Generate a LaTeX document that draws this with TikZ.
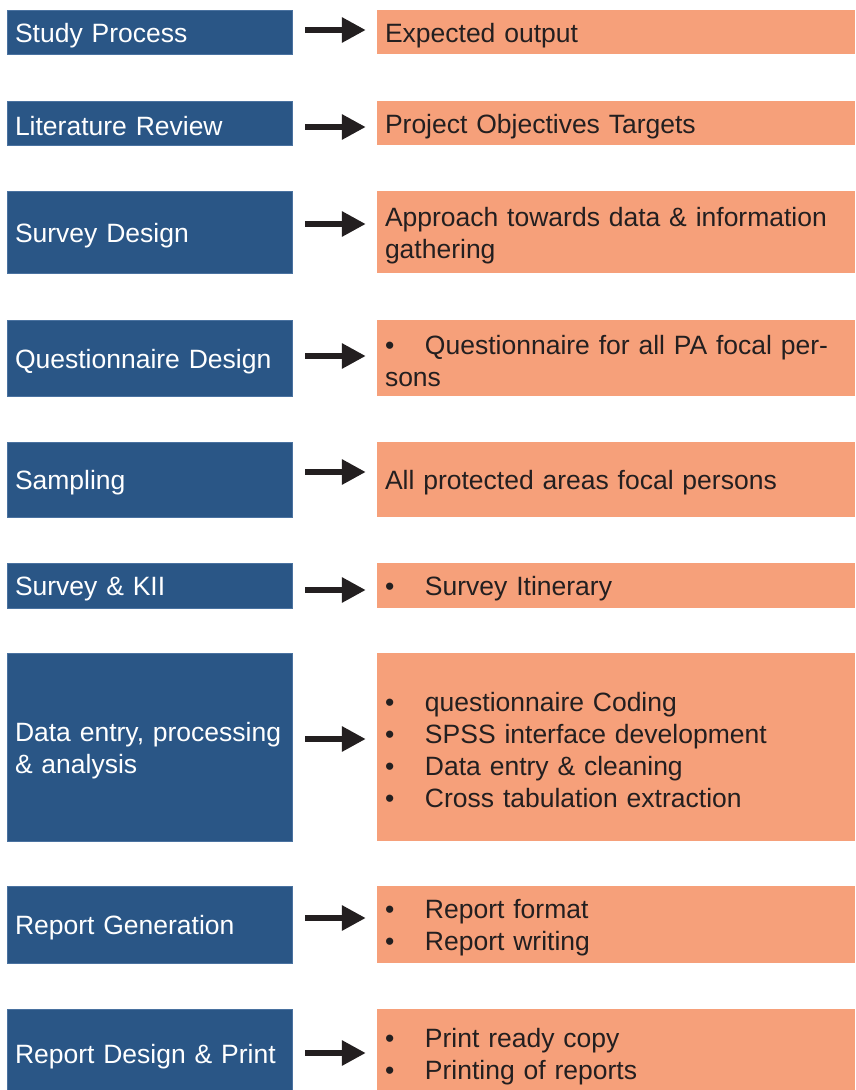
\documentclass[tikz,border=0pt]{standalone}
\usepackage{fontspec}
\setmainfont[WordSpace=0.9]{Liberation Sans}
\usetikzlibrary{arrows.meta,calc}
\definecolor{stepblue}{HTML}{2A5686}
\definecolor{stepedge}{HTML}{4A72A0}
\definecolor{outorange}{HTML}{F6A07A}
\definecolor{outtext}{HTML}{231F20}
\newcommand{\bul}{\makebox[40pt][l]{•}}
\newcommand{\topstrut}{\rule{0pt}{25.5pt}}
\tikzset{
  boxtext/.style={inner xsep=8pt, inner ysep=0pt, align=left,
    font=\fontsize{26.5}{32}\selectfont, execute at begin node=\topstrut},
  lbox/.style={boxtext, rectangle, fill=stepblue, draw=stepedge, line width=0.6pt,
    text=white, text width=269pt},
  rbox/.style={boxtext, rectangle, fill=outorange, draw=none,
    text=outtext, text width=462pt},
  flow/.style={line width=6pt, -{Triangle[length=24pt,width=24pt]}, color=outtext}
}
\newcommand{\flowarrow}[3]{%
  \draw[flow] ($(#1.east)+(13pt,#3)$) -- ($(#2.west)+(-11pt,#3)$);}
\begin{document}
\begin{tikzpicture}[x=1pt,y=-1pt]
\useasboundingbox (0,0) rectangle (855,1090);
\begin{scope}
\clip (0,0) rectangle (855,1090);
% step boxes (left) and expected outputs (right)
\node[lbox, minimum height=44pt] (L1) at (149.5,32) {Study Process};
\node[rbox, minimum height=44pt] (R1) at (616,32) {Expected output};

\node[lbox, minimum height=44pt] (L2) at (149.5,123) {Literature Review};
\node[rbox, minimum height=44pt] (R2) at (616,123) {Project Objectives Targets};

\node[lbox, minimum height=82pt] (L3) at (149.5,232) {Survey Design};
\node[rbox, minimum height=82pt] (R3) at (616,232) {Approach towards data \& information\\gathering};

\node[lbox, minimum height=76pt] (L4) at (149.5,358) {Questionnaire Design};
\node[rbox, minimum height=76pt] (R4) at (616,358) {\bul Questionnaire for all PA focal per-\\sons};

\node[lbox, minimum height=75pt] (L5) at (149.5,479.5) {Sampling};
\node[rbox, minimum height=75pt] (R5) at (616,479.5) {All protected areas focal persons};

\node[lbox, minimum height=45pt] (L6) at (149.5,585.5) {Survey \& KII};
\node[rbox, minimum height=45pt] (R6) at (616,585.5) {\bul Survey Itinerary};

\node[lbox, minimum height=188pt] (L7) at (149.5,747) {Data entry, processing\\\& analysis};
\node[rbox, minimum height=188pt] (R7) at (616,747) {\bul questionnaire Coding\\\bul SPSS interface development\\\bul Data entry \& cleaning\\\bul Cross tabulation extraction};

\node[lbox, minimum height=77pt] (L8) at (149.5,924.5) {Report Generation};
\node[rbox, minimum height=77pt] (R8) at (616,924.5) {\bul Report format\\\bul Report writing};

\node[lbox, minimum height=88pt] (L9) at (149.5,1053) {Report Design \& Print};
\node[rbox, minimum height=88pt] (R9) at (616,1053) {\bul Print ready copy\\\bul Printing of reports};

% arrows from each step to its output
\flowarrow{L1}{R1}{-2}
\flowarrow{L2}{R2}{4}
\flowarrow{L3}{R3}{-8}
\flowarrow{L4}{R4}{-2}
\flowarrow{L5}{R5}{-7.5}
\flowarrow{L6}{R6}{4.5}
\flowarrow{L7}{R7}{-8}
\flowarrow{L8}{R8}{-6.5}
\flowarrow{L9}{R9}{0}
\end{scope}
\end{tikzpicture}
\end{document}
